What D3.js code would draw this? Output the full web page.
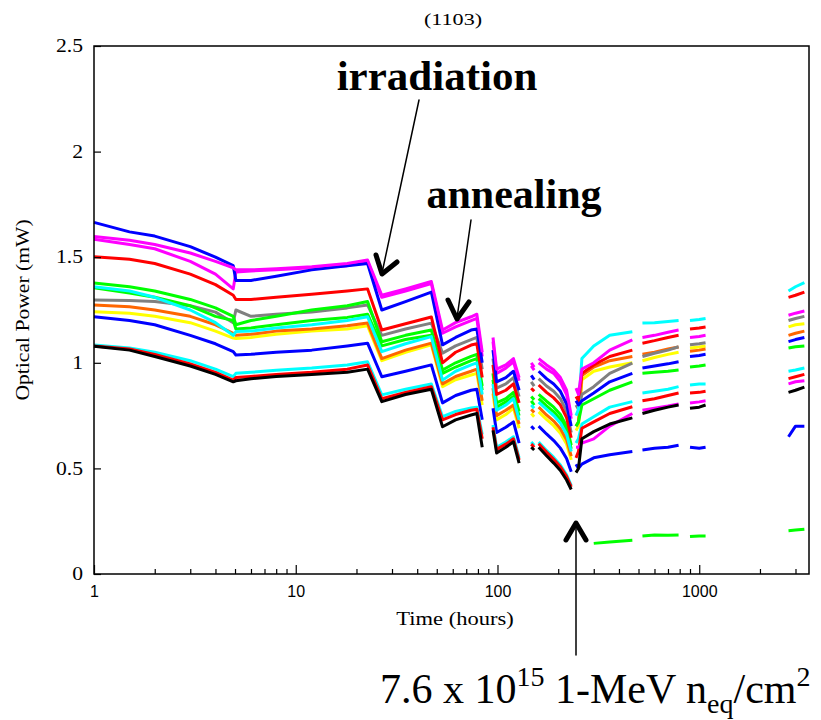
<!DOCTYPE html>
<html><head><meta charset="utf-8">
<script src="https://cdn.jsdelivr.net/npm/d3@7"></script>
<style>body{margin:0;background:#fff}svg{display:block}</style>
</head><body>
<svg id="c" width="821" height="720"></svg>
<script>
// ---- data: time knots (hours), grouped into measurement runs ----
const runHours = [
  [1, 1.5, 2, 3, 4, 4.9, 5.05, 6, 8, 12, 18, 22.7, 26.7, 35, 47, 53.4, 62, 74, 79, 84],
  [95, 99, 110, 120, 128],
  [147, 152],
  [160, 175, 190, 205, 220, 232],
  [245, 252, 262, 300, 360, 466],
  [523, 600, 700, 790],
  [900, 1000, 1075],
  [2770, 3000, 3320]
];
const xTickLabels = [1, 10, 100, 1000];
const xMinorTicks = [2,3,4,5,6,7,8,9,20,30,40,50,60,70,80,90,200,300,400,500,600,700,800,900,2000,3000];
const yTickLabels = [0, 0.5, 1, 1.5, 2, 2.5];

// optical power (mW) per fibre channel, one value per knot (runs concatenated)
const yellowCh = [1.242,1.235,1.22,1.19,1.15,1.117,1.115,1.12,1.135,1.15,1.16,1.175,1.01,1.05,1.085,0.887,0.92,0.942,0.95,0.8,
  0.855,0.73,0.755,0.785,0.69, 0.76,0.745, 0.768,0.732,0.702,0.666,0.615,0.54,
  0.68,0.7,0.92,0.96,0.98,1.0, 1.01,1.025,1.04,1.05, 1.07,1.075,1.08, 1.17,1.18,1.185];
const orangeCh = [1.274,1.265,1.25,1.22,1.18,1.14,1.13,1.135,1.15,1.16,1.175,1.188,1.02,1.06,1.093,0.9,0.935,0.96,0.97,0.82,
  0.88,0.75,0.775,0.8,0.71, 0.78,0.765, 0.79,0.753,0.724,0.688,0.636,0.558,
  0.7,0.72,0.94,0.98,1.01,1.03, 1.04,1.05,1.065,1.075, 1.055,1.06,1.065, 1.13,1.14,1.15];
const grayCh = [1.297,1.295,1.29,1.27,1.24,1.19,1.25,1.22,1.23,1.24,1.26,1.274,1.13,1.16,1.188,1.046,1.08,1.11,1.12,0.97,
  1.02,0.88,0.9,0.93,0.84, 0.91,0.89, 0.925,0.89,0.865,0.83,0.77,0.67,
  0.8,0.78,0.85,0.887,0.95,0.998, 1.03,1.045,1.06,1.076, 1.085,1.09,1.095, 1.2,1.21,1.22];
const greenLowCh = [1.355,1.33,1.31,1.27,1.22,1.2,1.16,1.165,1.18,1.2,1.215,1.23,1.08,1.11,1.13,0.95,0.98,1.01,1.02,0.87,
  0.92,0.79,0.815,0.84,0.75, 0.82,0.8, 0.83,0.796,0.768,0.732,0.68,0.593,
  null,null,null,0.145,0.152,0.16, 0.18,0.185,0.183,0.185, 0.177,0.18,0.18, 0.205,0.208,0.212];
const greenCh = [1.378,1.36,1.34,1.3,1.26,1.22,1.18,1.2,1.22,1.25,1.27,1.29,1.1,1.13,1.155,0.966,1.0,1.03,1.04,0.89,
  0.95,0.81,0.83,0.86,0.77, 0.84,0.825, 0.85,0.818,0.79,0.755,0.7,0.61,
  0.7,0.72,0.8,0.83,0.87,0.91, 0.95,0.955,0.96,0.966, 0.98,0.985,0.99, 1.07,1.076,1.08];
const cyanCh = [1.36,1.34,1.31,1.25,1.19,1.13,1.148,1.15,1.165,1.18,1.2,1.218,1.053,1.09,1.124,0.918,0.96,0.99,1.0,0.85,
  0.9,0.775,0.8,0.83,0.73, 0.8,0.785, 0.814,0.78,0.75,0.715,0.662,0.58,
  0.75,0.78,1.02,1.08,1.13,1.147, 1.188,1.19,1.195,1.2, 1.2,1.205,1.21, 1.34,1.36,1.38];
const redCh = [1.502,1.49,1.47,1.42,1.37,1.32,1.3,1.3,1.31,1.325,1.34,1.35,1.155,1.185,1.217,1.0,1.05,1.084,1.09,0.93,
  0.99,0.85,0.87,0.9,0.81, 0.88,0.865, 0.895,0.86,0.834,0.8,0.74,0.645,
  0.84,0.82,0.95,0.99,1.03,1.06, 1.093,1.105,1.12,1.13, 1.16,1.165,1.17, 1.31,1.32,1.335];
const blueLowCh = [1.218,1.2,1.18,1.13,1.09,1.053,1.037,1.04,1.05,1.06,1.08,1.093,0.934,0.96,0.99,0.81,0.845,0.87,0.875,0.73,
  0.785,0.67,0.695,0.72,0.62, 0.7,0.685, 0.7,0.663,0.632,0.596,0.547,0.484,
  0.52,0.5,0.52,0.55,0.565,0.58, 0.587,0.595,0.6,0.61, 0.6,0.595,0.6, 0.65,0.7,0.7];
const cyanLowCh = [1.084,1.07,1.05,1.01,0.97,0.934,0.95,0.955,0.965,0.975,0.99,1.005,0.848,0.875,0.9,0.745,0.77,0.786,0.79,0.66,
  0.705,0.6,0.625,0.65,0.55, 0.625,0.61, 0.625,0.585,0.552,0.516,0.47,0.42,
  0.62,0.64,0.71,0.745,0.79,0.816, 0.857,0.865,0.875,0.887, 0.895,0.9,0.9, 0.96,0.966,0.975];
const redLowCh = [1.08,1.065,1.04,0.995,0.955,0.918,0.93,0.935,0.945,0.955,0.97,0.99,0.83,0.86,0.887,0.73,0.755,0.775,0.78,0.64,
  0.695,0.59,0.615,0.64,0.54, 0.615,0.6, 0.617,0.577,0.543,0.508,0.462,0.413,
  0.55,0.58,0.69,0.72,0.76,0.792, 0.82,0.83,0.845,0.857, 0.857,0.86,0.865, 0.925,0.934,0.945];
const magentaLowCh = [1.585,1.56,1.54,1.48,1.42,1.35,1.43,1.435,1.44,1.45,1.46,1.48,1.31,1.34,1.375,1.14,1.17,1.2,1.21,1.03,
  1.1,0.95,0.975,1.005,0.915, 0.985,0.965, 1.0,0.97,0.95,0.91,0.85,0.735,
  0.6,0.6,0.62,0.64,0.7,0.76, 0.776,0.785,0.795,0.805, 0.81,0.815,0.82, 0.9,0.91,0.915];
const blueCh = [1.665,1.62,1.6,1.55,1.5,1.46,1.39,1.39,1.41,1.44,1.46,1.47,1.25,1.29,1.335,1.085,1.12,1.155,1.16,1.0,
  1.06,0.91,0.93,0.96,0.87, 0.94,0.92, 0.96,0.925,0.9,0.865,0.805,0.7,
  0.82,0.8,0.82,0.857,0.91,0.95, 0.975,0.985,0.995,1.005, 1.03,1.035,1.04, 1.1,1.11,1.12];
const magentaCh = [1.598,1.58,1.56,1.52,1.48,1.45,1.44,1.44,1.445,1.455,1.47,1.487,1.32,1.35,1.385,1.155,1.19,1.218,1.23,1.05,
  1.12,0.97,0.99,1.02,0.93, 1.0,0.98, 1.02,0.99,0.966,0.93,0.87,0.75,
  0.88,0.85,0.97,1.0,1.06,1.108, 1.12,1.13,1.145,1.155, 1.12,1.125,1.13, 1.225,1.235,1.245];
const blackCh = [1.078,1.06,1.03,0.985,0.945,0.91,0.915,0.925,0.935,0.945,0.955,0.97,0.816,0.85,0.875,0.697,0.73,0.753,0.76,0.6,
  0.68,0.573,0.6,0.626,0.525, 0.6,0.587, 0.6,0.56,0.525,0.49,0.445,0.4,
  0.48,0.5,0.64,0.674,0.71,0.739, 0.76,0.775,0.79,0.8, 0.785,0.79,0.8, 0.86,0.87,0.885];

const channels = [
  {values: yellowCh, color: "#ffff00"},
  {values: orangeCh, color: "#ff6600"},
  {values: grayCh, color: "#808080"},
  {values: greenLowCh, color: "#00ff00"},
  {values: greenCh, color: "#00ff00"},
  {values: cyanCh, color: "#00ffff"},
  {values: redCh, color: "#ff0000"},
  {values: blueLowCh, color: "#0000ff"},
  {values: cyanLowCh, color: "#00ffff"},
  {values: redLowCh, color: "#ff0000"},
  {values: magentaLowCh, color: "#ff00ff"},
  {values: blueCh, color: "#0000ff"},
  {values: magentaCh, color: "#ff00ff"},
  {values: blackCh, color: "#000000"}
];

// ---- drawing ----
const svg = d3.select("#c");
const L = 94, R = 809, T = 46, B = 574;
const x = d3.scaleLog().domain([1, 3500]).range([L, R]);
const y = d3.scaleLinear().domain([0, 2.5]).range([B, T]);
const serif = "'Liberation Serif','Times New Roman',serif";

function stretch(sel, f) {
  sel.each(function () {
    const w = this.getComputedTextLength();
    this.setAttribute("textLength", w * f);
    this.setAttribute("lengthAdjust", "spacingAndGlyphs");
  });
}

// data lines
const line = d3.line().defined(d => d.v != null).x(d => x(d.t)).y(d => y(d.v));
const gData = svg.append("g");
channels.forEach(ch => {
  let k = 0;
  runHours.forEach(run => {
    const pts = run.map((t, i) => ({t, v: ch.values[k + i]}));
    k += run.length;
    gData.append("path").attr("d", line(pts))
      .attr("fill", "none").attr("stroke", ch.color)
      .attr("stroke-width", 3).attr("stroke-linejoin", "round");
  });
});

// axes
const gx = svg.append("g").attr("transform", `translate(0,${B})`)
  .call(d3.axisBottom(x).tickValues(xTickLabels).tickFormat(d3.format("d"))
    .tickSizeInner(-9).tickSizeOuter(0).tickPadding(12));
gx.select(".domain").remove();
gx.selectAll("text").attr("font-family", "'Liberation Sans',Arial,sans-serif").attr("font-size", 16).attr("fill", "#000");
const gxm = svg.append("g").attr("transform", `translate(0,${B})`)
  .call(d3.axisBottom(x).tickValues(xMinorTicks).tickFormat("").tickSizeInner(-5).tickSizeOuter(0));
gxm.select(".domain").remove();

const gy = svg.append("g").attr("transform", `translate(${L},0)`)
  .call(d3.axisLeft(y).tickValues(yTickLabels).tickFormat(d3.format("~g"))
    .tickSizeInner(-7).tickSizeOuter(0).tickPadding(11));
gy.select(".domain").remove();
gy.selectAll("text").attr("font-family", serif).attr("font-size", 18).attr("fill", "#000");
stretch(gy.selectAll("text"), 1.2);
svg.selectAll(".tick line").attr("stroke", "#000").attr("stroke-width", 1.2);

// frame
svg.append("rect").attr("x", L).attr("y", T).attr("width", R - L).attr("height", B - T)
  .attr("fill", "none").attr("stroke", "#000").attr("stroke-width", 1.5);

// titles
const title = svg.append("text").attr("x", 453).attr("y", 25).attr("text-anchor", "middle")
  .attr("font-family", serif).attr("font-size", 17).text("(1103)");
stretch(title, 1.3);
const xt = svg.append("text").attr("x", 455).attr("y", 625).attr("text-anchor", "middle")
  .attr("font-family", serif).attr("font-size", 18).text("Time (hours)");
stretch(xt, 1.25);
const yt = svg.append("text").attr("transform", "translate(29,310) rotate(-90)").attr("text-anchor", "middle")
  .attr("font-family", serif).attr("font-size", 18).text("Optical Power (mW)");
stretch(yt, 1.2);

// annotations
const ann = svg.append("g").attr("font-family", serif).attr("fill", "#000");
ann.append("text").attr("x", 437).attr("y", 90).attr("text-anchor", "middle")
  .attr("font-size", 43).attr("font-weight", "bold").text("irradiation");
ann.append("text").attr("x", 514).attr("y", 208).attr("text-anchor", "middle")
  .attr("font-size", 42).attr("font-weight", "bold").text("annealing");
const big = ann.append("text").attr("x", 380).attr("y", 703).attr("font-size", 42);
big.append("tspan").text("7.6 x 10");
big.append("tspan").attr("font-size", 28).attr("dy", -17).text("15");
big.append("tspan").attr("dy", 17).text(" 1-MeV n");
big.append("tspan").attr("font-size", 28).attr("dy", 10).text("eq");
big.append("tspan").attr("dy", -10).text("/cm");
big.append("tspan").attr("font-size", 28).attr("dy", -17).text("2");

const arrows = svg.append("g").attr("fill", "none").attr("stroke", "#000").attr("stroke-linecap", "round").attr("stroke-linejoin", "round");
// irradiation arrow
arrows.append("path").attr("d", "M419,100 L382,273").attr("stroke-width", 1.5);
arrows.append("path").attr("d", "M376,255 L382,274 L397,262").attr("stroke-width", 5);
// annealing arrow
arrows.append("path").attr("d", "M471,220 L457,318").attr("stroke-width", 1.5);
arrows.append("path").attr("d", "M448,300 L457,319 L469,302").attr("stroke-width", 5);
// fluence arrow
arrows.append("path").attr("d", "M576,524 L576,655").attr("stroke-width", 1.5);
arrows.append("path").attr("d", "M566,540 L576,523 L586,540").attr("stroke-width", 5);
</script>
</body></html>
